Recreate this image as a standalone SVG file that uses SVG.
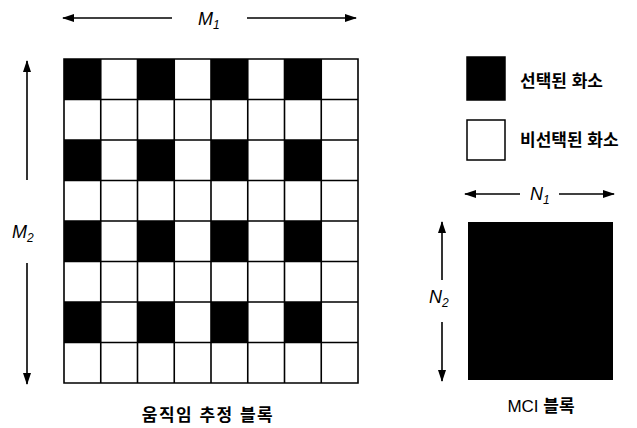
<svg xmlns="http://www.w3.org/2000/svg" width="637" height="428" viewBox="0 0 637 428">
<style>
.lbl{font-family:"Liberation Sans","Noto Sans CJK KR",sans-serif;font-size:17px;font-weight:bold;fill:#000}
.rg{font-weight:normal}
.var{font-family:"Liberation Sans",sans-serif;font-style:italic;font-size:18px;fill:#000}
.sub{font-size:12px}
.ln{stroke:#000;stroke-width:1.6;fill:none}
</style>
<defs>
<marker id="ah" viewBox="0 0 12 10" refX="11" refY="5" markerWidth="12" markerHeight="10" markerUnits="userSpaceOnUse" orient="auto"><path d="M0,1 L12,5 L0,9 Z" fill="#000"/></marker>
<pattern id="grid" x="64" y="59" width="73.5" height="81" patternUnits="userSpaceOnUse">
<rect x="0" y="0" width="36.75" height="40.5" fill="#000"/>
</pattern>
</defs>
<rect width="637" height="428" fill="#fff"/>
<g id="grid-block">
<rect x="64" y="59" width="294" height="324" fill="#fff"/>
<rect x="64" y="59" width="294" height="324" fill="url(#grid)"/>
<path class="ln" d="M64,59H358V383H64Z M100.75,59V383 M137.5,59V383 M174.25,59V383 M211,59V383 M247.75,59V383 M284.5,59V383 M321.25,59V383 M64,99.5H358 M64,140H358 M64,180.5H358 M64,221H358 M64,261.5H358 M64,302H358 M64,342.5H358"/>
</g>
<g id="connectors">
<line class="ln" x1="172" y1="18" x2="63" y2="18" marker-end="url(#ah)"/>
<line class="ln" x1="247" y1="18" x2="356" y2="18" marker-end="url(#ah)"/>
<line class="ln" x1="27" y1="180" x2="27" y2="61" marker-end="url(#ah)"/>
<line class="ln" x1="27" y1="263" x2="27" y2="384" marker-end="url(#ah)"/>
<line class="ln" x1="520" y1="194" x2="465" y2="194" marker-end="url(#ah)"/>
<line class="ln" x1="559" y1="194" x2="614" y2="194" marker-end="url(#ah)"/>
<line class="ln" x1="442" y1="280" x2="442" y2="222" marker-end="url(#ah)"/>
<line class="ln" x1="442" y1="322" x2="442" y2="381" marker-end="url(#ah)"/>
</g>
<g id="label-M1"><text class="var" x="198" y="25">M<tspan class="sub" dy="4">1</tspan></text></g>
<g id="label-M2"><text class="var" x="12" y="238">M<tspan class="sub" dy="4">2</tspan></text></g>
<g id="legend-selected">
<rect x="467" y="57" width="38" height="43" fill="#000" stroke="#000" stroke-width="1.5"/>
<text class="lbl" x="520" y="87">선택된 화소</text>
</g>
<g id="legend-unselected">
<rect x="467" y="120" width="38" height="40" fill="#fff" stroke="#000" stroke-width="1.5"/>
<text class="lbl" x="520" y="146">비선택된 화소</text>
</g>
<g id="mci-block">
<rect x="468" y="222" width="145" height="158" fill="#000"/>
</g>
<g id="label-N1"><text class="var" x="530" y="200">N<tspan class="sub" dy="4">1</tspan></text></g>
<g id="label-N2"><text class="var" x="429" y="303">N<tspan class="sub" dy="4">2</tspan></text></g>
<g id="caption-left"><text class="lbl" x="208" y="421" text-anchor="middle" letter-spacing="1.5">움직임 추정 블록</text></g>
<g id="caption-right"><text class="lbl" x="541" y="412" text-anchor="middle"><tspan class="rg">MCI</tspan> 블록</text></g>
</svg>
